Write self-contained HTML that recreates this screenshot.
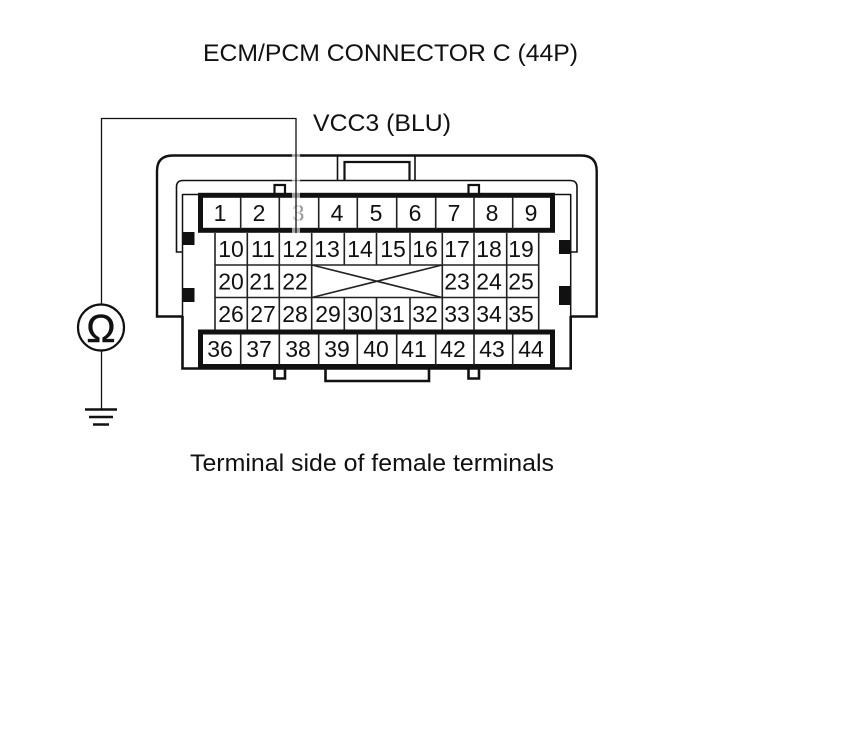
<!DOCTYPE html>
<html>
<head>
<meta charset="utf-8">
<style>
html,body{margin:0;padding:0;background:#fff}
svg{display:block}
text{font-family:"Liberation Sans",sans-serif;fill:#111}
.n{font-size:23px;text-anchor:middle}
.t{font-size:24px}
</style>
</head>
<body>
<svg width="860" height="735" viewBox="0 0 860 735" xmlns="http://www.w3.org/2000/svg">
<rect width="860" height="735" fill="#fff"/>
<text class="t" x="203" y="61" textLength="375" lengthAdjust="spacingAndGlyphs">ECM/PCM CONNECTOR C (44P)</text>
<text class="t" x="313" y="131" textLength="138" lengthAdjust="spacingAndGlyphs">VCC3 (BLU)</text>
<text class="t" x="190" y="471" textLength="364" lengthAdjust="spacingAndGlyphs">Terminal side of female terminals</text>

<g fill="none" stroke="#111">
  <path stroke-width="2.4" d="M183 316.5H157V171Q157 155.5 173 155.5H581Q596.7 155.5 596.7 171V316.5H571"/>
  <path stroke-width="1.6" d="M183 252H176.5V187Q176.5 180.5 183 180.5H570Q577 180.5 577 187V252H571"/>
  <path stroke-width="1.6" d="M337.5 155.5V180M415 155.5V180"/>
  <path stroke-width="2.2" d="M344.5 180V162H409.5V180"/>
  <path stroke-width="1.5" d="M182.5 194V316M570.7 194V316"/>
  <path stroke-width="2.6" d="M182.5 316V368.5H570.7V316"/>
  <path stroke-width="1.6" d="M182.5 194.5H199M555 194.5H571"/>
  <path stroke-width="2.2" d="M274.5 193V185H285V193M468.5 193V185H479V193"/>
  <path stroke-width="2.6" d="M274.5 368V378.5H285V368M468.5 368V378.5H479V368"/>
  <path stroke-width="2.6" d="M325.5 368V381H429V368"/>
</g>

<g fill="#111">
  <rect x="183" y="232" width="11.5" height="13"/>
  <rect x="183" y="288" width="11.5" height="14"/>
  <rect x="559" y="240" width="12" height="14"/>
  <rect x="559" y="286" width="12" height="19"/>
</g>

<g fill="none" stroke="#111" stroke-width="5">
  <rect x="200.5" y="195.3" width="352" height="35"/>
  <rect x="200.5" y="332" width="352" height="34.5"/>
</g>
<g stroke="#222" stroke-width="1.6" fill="none">
  <path d="M240.7 197V229M279.3 197V229M318.7 197V229M357.3 197V229M396.7 197V229M435.7 197V229M474 197V229M512.7 197V229"/>
  <path d="M240.7 334V365M279.3 334V365M318.7 334V365M357.3 334V365M396.7 334V365M435.7 334V365M474 334V365M512.7 334V365"/>
  <path d="M215 233V330M247.3 233V330M279.3 233V330M311.7 233V330M344.3 233V265M376.5 233V265M410 233V265M442.3 233V330M474 233V330M506.7 233V330M538.7 233V330"/>
  <path d="M344.3 297V330M376.5 297V330M410 297V330"/>
  <path d="M215 265H539M215 297.5H539"/>
  <path d="M312 265L442 297.5M312 297.5L442 265"/>
</g>

<g class="labels">
  <text class="n" x="220" y="221">1</text>
  <text class="n" x="259" y="221">2</text>
  <text class="n" x="298" y="221" style="fill:#999">3</text>
  <text class="n" x="337" y="221">4</text>
  <text class="n" x="376" y="221">5</text>
  <text class="n" x="415" y="221">6</text>
  <text class="n" x="454" y="221">7</text>
  <text class="n" x="492" y="221">8</text>
  <text class="n" x="531" y="221">9</text>

  <text class="n" x="231" y="257">10</text>
  <text class="n" x="263" y="257">11</text>
  <text class="n" x="295" y="257">12</text>
  <text class="n" x="327" y="257">13</text>
  <text class="n" x="360" y="257">14</text>
  <text class="n" x="393" y="257">15</text>
  <text class="n" x="425" y="257">16</text>
  <text class="n" x="457" y="257">17</text>
  <text class="n" x="489" y="257">18</text>
  <text class="n" x="521" y="257">19</text>

  <text class="n" x="231" y="289.5">20</text>
  <text class="n" x="262" y="289.5">21</text>
  <text class="n" x="295" y="289.5">22</text>
  <text class="n" x="457" y="289.5">23</text>
  <text class="n" x="489" y="289.5">24</text>
  <text class="n" x="521" y="289.5">25</text>

  <text class="n" x="231" y="322">26</text>
  <text class="n" x="263" y="322">27</text>
  <text class="n" x="295" y="322">28</text>
  <text class="n" x="328" y="322">29</text>
  <text class="n" x="360" y="322">30</text>
  <text class="n" x="392" y="322">31</text>
  <text class="n" x="425" y="322">32</text>
  <text class="n" x="457" y="322">33</text>
  <text class="n" x="489" y="322">34</text>
  <text class="n" x="521" y="322">35</text>

  <text class="n" x="220" y="357">36</text>
  <text class="n" x="259" y="357">37</text>
  <text class="n" x="298" y="357">38</text>
  <text class="n" x="337" y="357">39</text>
  <text class="n" x="376" y="357">40</text>
  <text class="n" x="414" y="357">41</text>
  <text class="n" x="453" y="357">42</text>
  <text class="n" x="492" y="357">43</text>
  <text class="n" x="531" y="357">44</text>
</g>

<rect x="292" y="152" width="8" height="81" fill="#fff" opacity="0.6"/>
<g fill="none" stroke="#111" stroke-width="1.3">
  <path d="M296 233V118.5H101.5V304"/>
  <path d="M101.5 351V409"/>
</g>
<circle cx="101" cy="327.5" r="23" fill="#fff" stroke="#111" stroke-width="2.2"/>
<text x="101" y="342" text-anchor="middle" style="font-size:39px;stroke:#111;stroke-width:0.5">Ω</text>
<g stroke="#111" stroke-width="2.4">
  <path d="M85 409.5H117M89 417H113M93 424.5H109"/>
</g>
</svg>
</body>
</html>
